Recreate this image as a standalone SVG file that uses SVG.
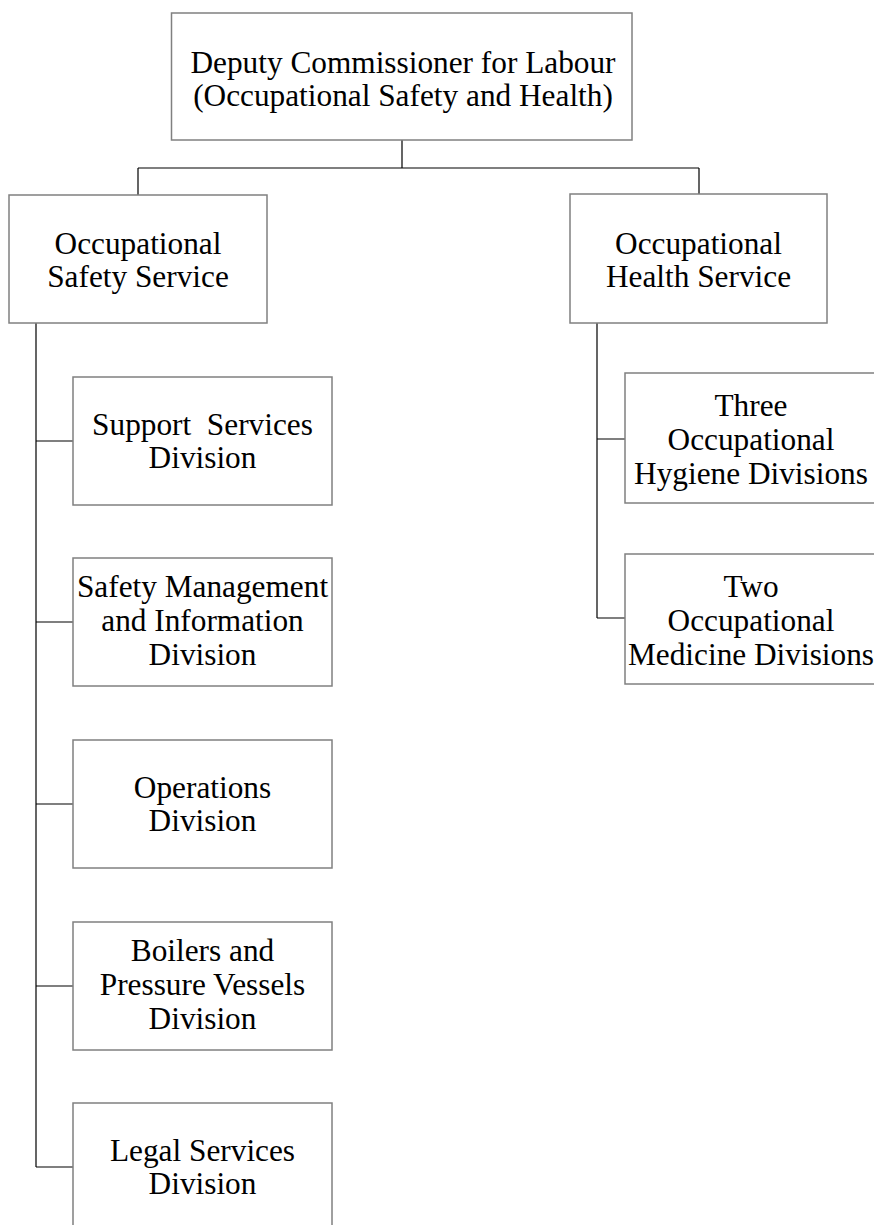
<svg xmlns="http://www.w3.org/2000/svg" width="874" height="1225" viewBox="0 0 874 1225">
<style>
.box{fill:#fff;stroke:#808080;stroke-width:1.5}
.lbl{font-family:"Liberation Serif","Times New Roman",serif;font-size:31.3px;fill:#000;text-anchor:middle}
.con{fill:none;stroke:#000;stroke-width:1.2}
</style>
<rect width="874" height="1225" fill="#fff"/>
<g id="connectors">
<path class="con" d="M402 140V168M138 168H699M138 168V195M699 168V194"/>
<path class="con" d="M36 323V1167M36 441H73M36 622H73M36 804H73M36 986H73M36 1167H73"/>
<path class="con" d="M597 323V618M597 439H625M597 618H625"/>
</g>
<g id="deputy">
<rect class="box" x="171.5" y="13" width="460.5" height="127"/>
<text class="lbl" x="403" y="73">Deputy Commissioner for Labour</text>
<text class="lbl" x="403" y="106">(Occupational Safety and Health)</text>
</g>
<g id="oss">
<rect class="box" x="9" y="195" width="258" height="128"/>
<text class="lbl" x="138" y="254">Occupational</text>
<text class="lbl" x="138" y="287">Safety Service</text>
</g>
<g id="ohs">
<rect class="box" x="570" y="194" width="257" height="129"/>
<text class="lbl" x="698.5" y="254">Occupational</text>
<text class="lbl" x="698.5" y="287">Health Service</text>
</g>
<g id="support">
<rect class="box" x="73" y="377" width="259" height="128"/>
<text class="lbl" x="202.5" y="435" xml:space="preserve">Support  Services</text>
<text class="lbl" x="202.5" y="468">Division</text>
</g>
<g id="safetymgmt">
<rect class="box" x="73" y="558" width="259" height="128"/>
<text class="lbl" x="202.5" y="597">Safety Management</text>
<text class="lbl" x="202.5" y="631">and Information</text>
<text class="lbl" x="202.5" y="665">Division</text>
</g>
<g id="operations">
<rect class="box" x="73" y="740" width="259" height="128"/>
<text class="lbl" x="202.5" y="798">Operations</text>
<text class="lbl" x="202.5" y="831">Division</text>
</g>
<g id="boilers">
<rect class="box" x="73" y="922" width="259" height="128"/>
<text class="lbl" x="202.5" y="961">Boilers and</text>
<text class="lbl" x="202.5" y="995">Pressure Vessels</text>
<text class="lbl" x="202.5" y="1029">Division</text>
</g>
<g id="legal">
<rect class="box" x="73" y="1103" width="259" height="128"/>
<text class="lbl" x="202.5" y="1161">Legal Services</text>
<text class="lbl" x="202.5" y="1194">Division</text>
</g>
<g id="hygiene">
<rect class="box" x="625" y="373" width="256" height="130"/>
<text class="lbl" x="751" y="416">Three</text>
<text class="lbl" x="751" y="450">Occupational</text>
<text class="lbl" x="751" y="484">Hygiene Divisions</text>
</g>
<g id="medicine">
<rect class="box" x="625" y="554" width="256" height="130"/>
<text class="lbl" x="751" y="597">Two</text>
<text class="lbl" x="751" y="631">Occupational</text>
<text class="lbl" x="751" y="665">Medicine Divisions</text>
</g>
</svg>
